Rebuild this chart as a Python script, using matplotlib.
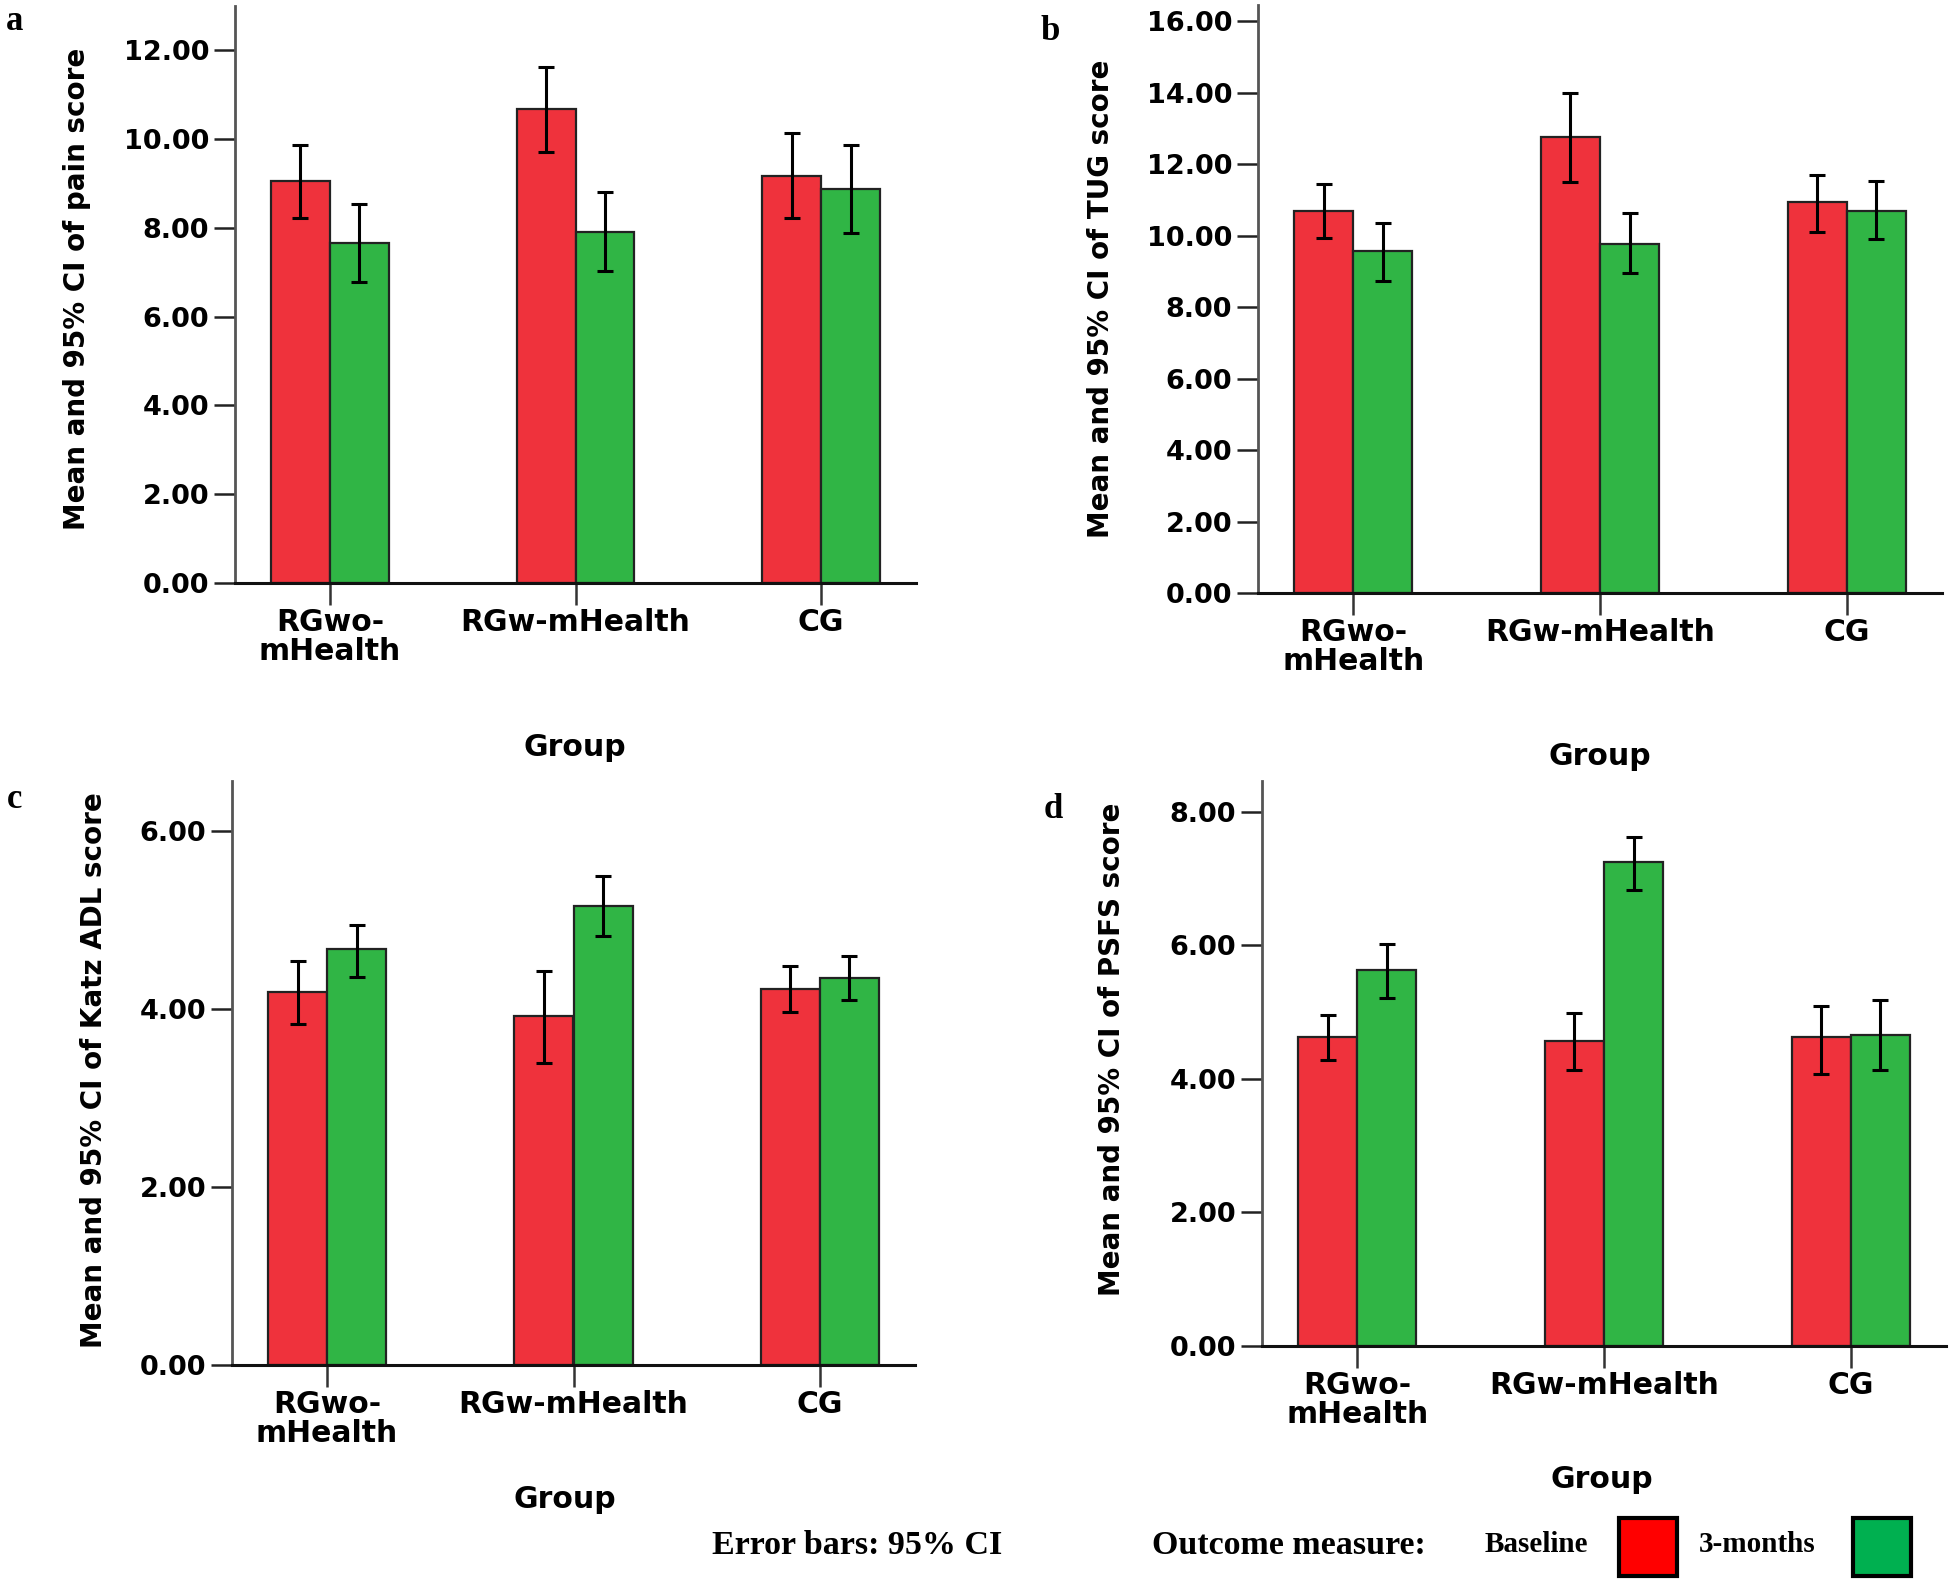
import numpy as np
import matplotlib.pyplot as plt
from matplotlib.patches import Rectangle

# Data: mean and 95% CI (lower, upper) per group, baseline vs 3-months
groups = ['RGwo-\nmHealth', 'RGw-mHealth', 'CG']

pain_base = [9.06, 10.68, 9.17]
pain_base_lo = [8.23, 9.71, 8.23]
pain_base_hi = [9.87, 11.62, 10.14]
pain_3m = [7.67, 7.91, 8.87]
pain_3m_lo = [6.78, 7.03, 7.88]
pain_3m_hi = [8.55, 8.80, 9.87]

tug_base = [10.70, 12.75, 10.93]
tug_base_lo = [9.94, 11.50, 10.09]
tug_base_hi = [11.45, 13.98, 11.69]
tug_3m = [9.56, 9.77, 10.70]
tug_3m_lo = [8.73, 8.94, 9.91]
tug_3m_hi = [10.34, 10.63, 11.52]

katz_base = [4.19, 3.92, 4.22]
katz_base_lo = [3.83, 3.39, 3.97]
katz_base_hi = [4.54, 4.43, 4.48]
katz_3m = [4.67, 5.16, 4.35]
katz_3m_lo = [4.36, 4.82, 4.10]
katz_3m_hi = [4.94, 5.49, 4.59]

psfs_base = [4.62, 4.56, 4.62]
psfs_base_lo = [4.28, 4.13, 4.07]
psfs_base_hi = [4.96, 4.98, 5.09]
psfs_3m = [5.63, 7.25, 4.66]
psfs_3m_lo = [5.21, 6.83, 4.13]
psfs_3m_hi = [6.02, 7.62, 5.18]

# Colors
red = '#ef323c'
green = '#30b545'
legend_red = '#ff0000'
legend_green = '#00b050'

W, H = 1959, 1582
fig = plt.figure(figsize=(W / 100, H / 100), dpi=100)

sans = 'DejaVu Sans'
serif = 'Liberation Serif'


def px_axes(left, right, top, bottom):
    return [left / W, 1 - bottom / H, (right - left) / W, (bottom - top) / H]


panels = [
    dict(rect=px_axes(235, 916, 6, 583), ymax=13.0, yticks=np.arange(0, 13, 2),
         base=(pain_base, pain_base_lo, pain_base_hi), m3=(pain_3m, pain_3m_lo, pain_3m_hi),
         ylabel='Mean and 95% CI of pain score', ylab_xy=(77, 289),
         letter='a', letter_xy=(15, 22), group_xy=(575, 747)),
    dict(rect=px_axes(1258, 1942, 5, 593), ymax=16.45, yticks=np.arange(0, 17, 2),
         base=(tug_base, tug_base_lo, tug_base_hi), m3=(tug_3m, tug_3m_lo, tug_3m_hi),
         ylabel='Mean and 95% CI of TUG score', ylab_xy=(1101, 299),
         letter='b', letter_xy=(1050, 31), group_xy=(1600, 757)),
    dict(rect=px_axes(232, 915, 781, 1365), ymax=6.56, yticks=np.arange(0, 7, 2),
         base=(katz_base, katz_base_lo, katz_base_hi), m3=(katz_3m, katz_3m_lo, katz_3m_hi),
         ylabel='Mean and 95% CI of Katz ADL score', ylab_xy=(94, 1070),
         letter='c', letter_xy=(15, 800), group_xy=(565, 1499)),
    dict(rect=px_axes(1262, 1946, 781, 1346), ymax=8.46, yticks=np.arange(0, 9, 2),
         base=(psfs_base, psfs_base_lo, psfs_base_hi), m3=(psfs_3m, psfs_3m_lo, psfs_3m_hi),
         ylabel='Mean and 95% CI of PSFS score', ylab_xy=(1112, 1049),
         letter='d', letter_xy=(1053, 809), group_xy=(1602, 1480)),
]

x = np.arange(len(groups))
bw = 0.24

for p in panels:
    ax = fig.add_axes(p['rect'])
    for vals, off, col in [(p['base'], -bw / 2, red), (p['m3'], bw / 2, green)]:
        mean, lo, hi = (np.array(v) for v in vals)
        ax.bar(x + off, mean, width=bw, color=col, edgecolor='#222222', linewidth=1.6, zorder=2)
        ax.errorbar(x + off, mean, yerr=[mean - lo, hi - mean], fmt='none', ecolor='black',
                    elinewidth=2.2, capsize=6, capthick=2.2, zorder=3)

    ax.set_xlim(-0.386, 2.386)
    ax.set_ylim(0, p['ymax'])
    ax.set_yticks(p['yticks'])
    ax.set_yticklabels([f'{v:.2f}' for v in p['yticks']], fontsize=19.5,
                       fontweight='bold', family=sans)
    ax.set_xticks(x)
    ax.set_xticklabels(groups, fontsize=21.5, fontweight='bold', family=sans, linespacing=1.0)

    for s in ['top', 'right']:
        ax.spines[s].set_visible(False)
    ax.spines['left'].set_color('#555555')
    ax.spines['left'].set_linewidth(2.0)
    ax.spines['bottom'].set_color('#111111')
    ax.spines['bottom'].set_linewidth(2.2)
    ax.tick_params(axis='y', length=15, width=1.8, color='#222222', pad=3.5)
    ax.tick_params(axis='x', length=16, width=1.8, color='#333333', pad=2)

    fig.text(p['ylab_xy'][0] / W, 1 - p['ylab_xy'][1] / H, p['ylabel'], rotation=90,
             ha='center', va='center', fontsize=20, fontweight='bold', family=sans)
    fig.text(p['group_xy'][0] / W, 1 - p['group_xy'][1] / H, 'Group',
             ha='center', va='center', fontsize=21.5, fontweight='bold', family=sans)
    fig.text(p['letter_xy'][0] / W, 1 - p['letter_xy'][1] / H, p['letter'],
             ha='center', va='center', fontsize=25, fontweight='bold', family=serif)

# Footer texts and legend
fig.text(712 / W, 1 - 1546 / H, 'Error bars: 95% CI', ha='left', va='center',
         fontsize=24.5, fontweight='bold', family=serif)
fig.text(1152 / W, 1 - 1546 / H, 'Outcome measure:', ha='left', va='center',
         fontsize=24.5, fontweight='bold', family=serif)
fig.text(1485 / W, 1 - 1545 / H, 'Baseline', ha='left', va='center',
         fontsize=21, fontweight='bold', family=serif)
fig.text(1699 / W, 1 - 1545 / H, '3-months', ha='left', va='center',
         fontsize=21, fontweight='bold', family=serif)

for left, col in [(1619, legend_red), (1853, legend_green)]:
    fig.add_artist(Rectangle((left / W, 1 - 1576 / H), 58 / W, 58 / H,
                             transform=fig.transFigure, facecolor=col,
                             edgecolor='black', linewidth=3.0))

fig.savefig('out.png', dpi=100)
